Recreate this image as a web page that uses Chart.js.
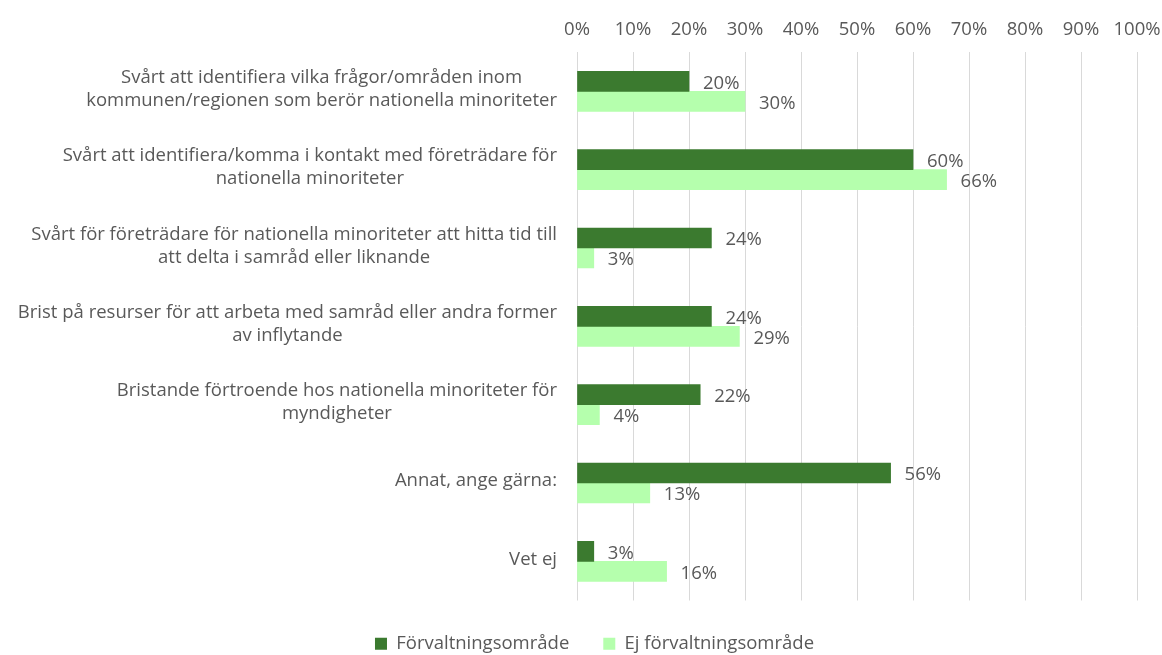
<!DOCTYPE html>
<html lang="sv">
<head>
    <meta charset="UTF-8">
    <title>Samråd – hinder</title>
    <script src="https://cdn.jsdelivr.net/npm/chart.js"></script>
    <style>
        html, body { margin: 0; padding: 0; background: #fff; }
        #wrap { width: 1162px; height: 655px; }
    </style>
</head>
<body>
    <div id="wrap"><canvas id="chart"></canvas></div>

    <script>
        const categories = [
            ['Svårt att identifiera vilka frågor/områden inom', 'kommunen/regionen som berör nationella minoriteter'],
            ['Svårt att identifiera/komma i kontakt med företrädare för', 'nationella minoriteter'],
            ['Svårt för företrädare för nationella minoriteter att hitta tid till', 'att delta i samråd eller liknande'],
            ['Brist på resurser för att arbeta med samråd eller andra former', 'av inflytande'],
            ['Bristande förtroende hos nationella minoriteter för', 'myndigheter'],
            'Annat, ange gärna:',
            'Vet ej'
        ];
        const forvaltning = [20, 60, 24, 24, 22, 56, 3];
        const ejForvaltning = [30, 66, 3, 29, 4, 13, 16];
        const seriesNames = ['Förvaltningsområde', 'Ej förvaltningsområde'];
        const xTicks = [0, 10, 20, 30, 40, 50, 60, 70, 80, 90, 100];

        const textColor = '#595959';
        const fontFamily = '"Open Sans", sans-serif';
        const fontSize = 18.5;
        const lineGap = 23;

        // labels to the right of each bar
        const valueLabels = {
            id: 'valueLabels',
            afterDatasetsDraw(chart) {
                const ctx = chart.ctx;
                ctx.save();
                ctx.font = fontSize + 'px ' + fontFamily;
                ctx.fillStyle = textColor;
                ctx.textBaseline = 'middle';
                ctx.textAlign = 'left';
                chart.data.datasets.forEach((ds, i) => {
                    chart.getDatasetMeta(i).data.forEach((bar, j) => {
                        ctx.fillText(ds.data[j] + '%', bar.x + 14, bar.y + 2);
                    });
                });
                ctx.restore();
            }
        };

        // category labels: block right-aligned, lines centred inside the block (like Excel)
        const categoryLabels = {
            id: 'categoryLabels',
            afterDraw(chart) {
                const ctx = chart.ctx;
                const yScale = chart.scales.y;
                const right = chart.chartArea.left - 20;
                ctx.save();
                ctx.font = fontSize + 'px ' + fontFamily;
                ctx.fillStyle = textColor;
                ctx.textBaseline = 'middle';
                ctx.textAlign = 'center';
                chart.data.labels.forEach((label, i) => {
                    const lines = Array.isArray(label) ? label : [label];
                    const w = Math.max(...lines.map(l => ctx.measureText(l).width));
                    const cx = right - w / 2;
                    const cy = yScale.getPixelForTick(i) - 2;
                    const y0 = cy - (lines.length - 1) * lineGap / 2;
                    lines.forEach((l, k) => ctx.fillText(l, cx, y0 + k * lineGap));
                });
                ctx.restore();
            }
        };

        // nudge the legend a little to the right, as in the original
        const legendShift = {
            id: 'legendShift',
            afterLayout(chart) {
                chart.legend.left += 21;
                chart.legend.right += 21;
            }
        };

        new Chart(document.getElementById('chart'), {
            type: 'bar',
            data: {
                labels: categories,
                datasets: [
                    { label: seriesNames[0], data: forvaltning, backgroundColor: '#3b7a2f' },
                    { label: seriesNames[1], data: ejForvaltning, backgroundColor: '#b5ffad' }
                ]
            },
            options: {
                indexAxis: 'y',
                responsive: true,
                maintainAspectRatio: false,
                animation: false,
                layout: { padding: { left: 10, right: 25, top: 8, bottom: -8 } },
                datasets: { bar: { barThickness: 20, categoryPercentage: 0.52, barPercentage: 1 } },
                scales: {
                    x: {
                        position: 'top',
                        min: 0,
                        max: 100,
                        afterBuildTicks(axis) { axis.ticks = xTicks.map(v => ({ value: v })); },
                        afterFit(axis) { axis.paddingLeft = 0; axis.paddingRight = 0; },
                        ticks: {
                            callback: v => v + '%',
                            color: textColor,
                            font: { size: fontSize, family: fontFamily },
                            padding: 11
                        },
                        grid: { color: '#d9d9d9', drawTicks: false },
                        border: { display: false }
                    },
                    y: {
                        afterFit(axis) { axis.width = 567; },
                        ticks: { display: false },
                        grid: { display: false },
                        border: { display: false }
                    }
                },
                plugins: {
                    legend: {
                        position: 'bottom',
                        labels: {
                            color: textColor,
                            font: { size: fontSize, family: fontFamily },
                            boxWidth: 12,
                            boxHeight: 12,
                            padding: 34
                        }
                    },
                    tooltip: { enabled: false }
                }
            },
            plugins: [valueLabels, categoryLabels, legendShift]
        });
    </script>
</body>
</html>
